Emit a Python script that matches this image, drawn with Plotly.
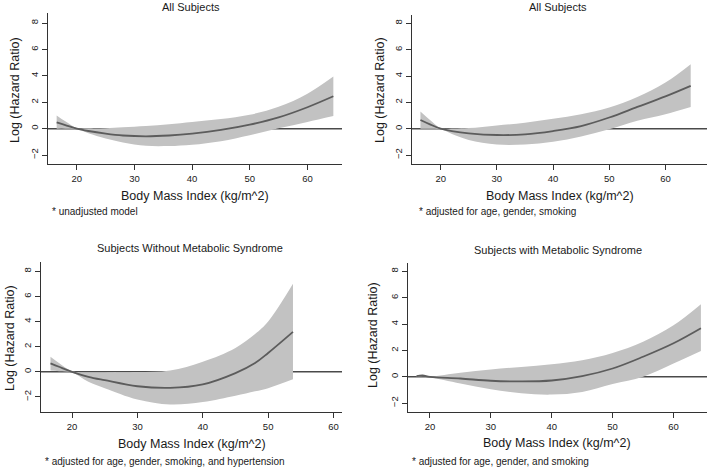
import plotly.graph_objects as go

# ---------------- data ----------------
bmi_1 = [16.5, 18, 20, 22, 25, 28, 32, 36, 40, 45, 50, 55, 60, 64.5]
fit_1 = [0.48, 0.27, 0.0, -0.18, -0.38, -0.52, -0.58, -0.52, -0.38, -0.1, 0.3, 0.85, 1.62, 2.45]
upper_1 = [1.0, 0.55, 0.05, 0.02, 0.03, 0.1, 0.2, 0.33, 0.5, 0.72, 1.05, 1.65, 2.65, 3.95]
lower_1 = [0.0, 0.0, -0.05, -0.35, -0.75, -1.05, -1.3, -1.32, -1.22, -0.95, -0.5, 0.02, 0.5, 0.95]

bmi_2 = [16.4, 18, 20, 22, 25, 30, 35, 40, 45, 50, 55, 60, 64.5]
fit_2 = [0.66, 0.35, 0.0, -0.18, -0.35, -0.48, -0.43, -0.18, 0.2, 0.85, 1.65, 2.45, 3.25]
upper_2 = [1.3, 0.7, 0.05, 0.02, 0.05, 0.25, 0.45, 0.75, 1.1, 1.6, 2.4, 3.5, 4.9]
lower_2 = [0.0, 0.0, -0.05, -0.4, -0.85, -1.2, -1.2, -1.0, -0.6, -0.05, 0.6, 1.1, 1.65]

bmi_3 = [16.7, 18, 20, 22.5, 25, 30, 35, 40, 45, 48, 50, 53.8]
fit_3 = [0.67, 0.4, 0.0, -0.4, -0.67, -1.15, -1.28, -1.0, -0.1, 0.7, 1.5, 3.18]
upper_3 = [1.2, 0.7, 0.05, -0.05, -0.05, -0.02, 0.1, 0.8, 1.9, 3.0, 4.0, 7.0]
lower_3 = [0.1, 0.05, -0.05, -0.8, -1.3, -2.2, -2.6, -2.4, -1.9, -1.55, -1.3, -0.6]

bmi_4 = [17.8, 18.8, 20, 25, 30, 35, 40, 45, 50, 55, 60, 64.5]
fit_4 = [0.05, 0.1, 0.0, -0.13, -0.3, -0.35, -0.28, 0.05, 0.63, 1.52, 2.54, 3.68]
upper_4 = [0.05, 0.12, 0.03, 0.3, 0.55, 0.75, 0.95, 1.25, 1.8, 2.65, 3.9, 5.5]
lower_4 = [0.0, 0.05, -0.03, -0.5, -0.95, -1.25, -1.35, -1.15, -0.55, 0.0, 1.0, 1.95]

titles = ["All Subjects", "All Subjects",
          "Subjects Without Metabolic Syndrome", "Subjects with Metabolic Syndrome"]
notes = ["* unadjusted model", "* adjusted for age, gender, smoking",
         "* adjusted for age, gender, smoking, and hypertension",
         "* adjusted for age, gender, and smoking"]
x_title = "Body Mass Index (kg/m^2)"
y_title = "Log (Hazard Ratio)"
x_ticks = [20, 30, 40, 50, 60]
y_ticks = [-2, 0, 2, 4, 6, 8]

series = [(bmi_1, fit_1, upper_1, lower_1), (bmi_2, fit_2, upper_2, lower_2),
          (bmi_3, fit_3, upper_3, lower_3), (bmi_4, fit_4, upper_4, lower_4)]

# ---------------- layout geometry ----------------
W, H = 709, 469
def px(x):
    return x / W
def py(y):
    return 1 - y / H

# plot boxes in pixels: (left, right, top, bottom)
boxes = [(48, 342, 13, 164), (412, 707, 15, 164), (41, 342, 262, 412), (408, 707, 263, 412)]
x_ranges = [[15.0, 66.0], [14.9, 67.4], [15.25, 61.3], [16.4, 65.5]]
y_ranges = [[-2.68, 8.76], [-2.68, 8.63], [-3.2, 8.74], [-2.67, 8.63]]
title_pos = [(191, 7), (558, 7), (190, 248), (558, 250)]
xt_pos = [(195, 196), (560, 196), (192, 444), (557, 443)]
yt_pos = [(15, 90), (380, 90), (10, 338), (373, 335)]
note_pos = [(50, 211), (417, 211), (43, 461), (410, 461)]

BAND = "#c2c2c2"
LINE = "#5c5c5c"
AX = "#333333"
TXT = "#1a1a1a"
FONT = "Liberation Sans, Arial, Helvetica, sans-serif"

fig = go.Figure()
layout = dict(width=W, height=H, margin=dict(l=0, r=0, t=0, b=0),
              paper_bgcolor="white", plot_bgcolor="white", showlegend=False,
              font=dict(family=FONT, color=TXT))
annotations = []
shapes = []

for i, (bx, fit, up, lo) in enumerate(series):
    n = i + 1
    xa = "x" if n == 1 else f"x{n}"
    ya = "y" if n == 1 else f"y{n}"
    l, r, t, b = boxes[i]
    layout["xaxis" if n == 1 else f"xaxis{n}"] = dict(
        domain=[px(l), px(r)], range=x_ranges[i], anchor=ya,
        tickvals=x_ticks, showgrid=False, zeroline=False,
        showline=True, linecolor=AX, linewidth=1.3,
        ticks="outside", ticklen=5, tickcolor=AX, tickwidth=1.2,
        tickfont=dict(size=9.5, color=TXT, family=FONT))
    layout["yaxis" if n == 1 else f"yaxis{n}"] = dict(
        domain=[py(b), py(t)], range=y_ranges[i], anchor=xa,
        tickvals=y_ticks, showgrid=False, zeroline=False,
        showline=True, linecolor=AX, linewidth=1.3,
        ticks="outside", ticklen=5, tickcolor=AX, tickwidth=1.2,
        tickangle=-90, tickfont=dict(size=9.5, color=TXT, family=FONT))

    # zero reference line (beneath the band)
    shapes.append(dict(type="line", xref=f"{xa} domain", yref=ya,
                       x0=0, x1=1, y0=0, y1=0, layer="below",
                       line=dict(color="#4a4a4a", width=1.5)))

    fig.add_trace(go.Scatter(x=bx, y=lo, mode="lines", line=dict(width=0, shape="spline"),
                             xaxis=xa, yaxis=ya, hoverinfo="skip"))
    fig.add_trace(go.Scatter(x=bx, y=up, mode="lines", line=dict(width=0, shape="spline"),
                             fill="tonexty", fillcolor=BAND,
                             xaxis=xa, yaxis=ya, hoverinfo="skip"))
    fig.add_trace(go.Scatter(x=bx, y=fit, mode="lines",
                             line=dict(color=LINE, width=1.8, shape="spline"),
                             xaxis=xa, yaxis=ya))

    tx, ty = title_pos[i]
    annotations.append(dict(text=titles[i], x=px(tx), y=py(ty), xref="paper", yref="paper",
                            xanchor="center", yanchor="middle", showarrow=False,
                            font=dict(size=11, color=TXT, family=FONT)))
    tx, ty = xt_pos[i]
    annotations.append(dict(text=x_title, x=px(tx), y=py(ty), xref="paper", yref="paper",
                            xanchor="center", yanchor="middle", showarrow=False,
                            font=dict(size=12.5, color=TXT, family=FONT)))
    tx, ty = yt_pos[i]
    annotations.append(dict(text=y_title, x=px(tx), y=py(ty), xref="paper", yref="paper",
                            xanchor="center", yanchor="middle", showarrow=False, textangle=-90,
                            font=dict(size=12.5, color=TXT, family=FONT)))
    tx, ty = note_pos[i]
    annotations.append(dict(text=notes[i], x=px(tx), y=py(ty), xref="paper", yref="paper",
                            xanchor="left", yanchor="middle", showarrow=False,
                            font=dict(size=10, color=TXT, family=FONT)))

layout["annotations"] = annotations
layout["shapes"] = shapes
fig.update_layout(**layout)
fig.write_html("out.html", config={"displayModeBar": False},
               post_script="document.body.style.margin='0';document.body.style.overflow='hidden';")
